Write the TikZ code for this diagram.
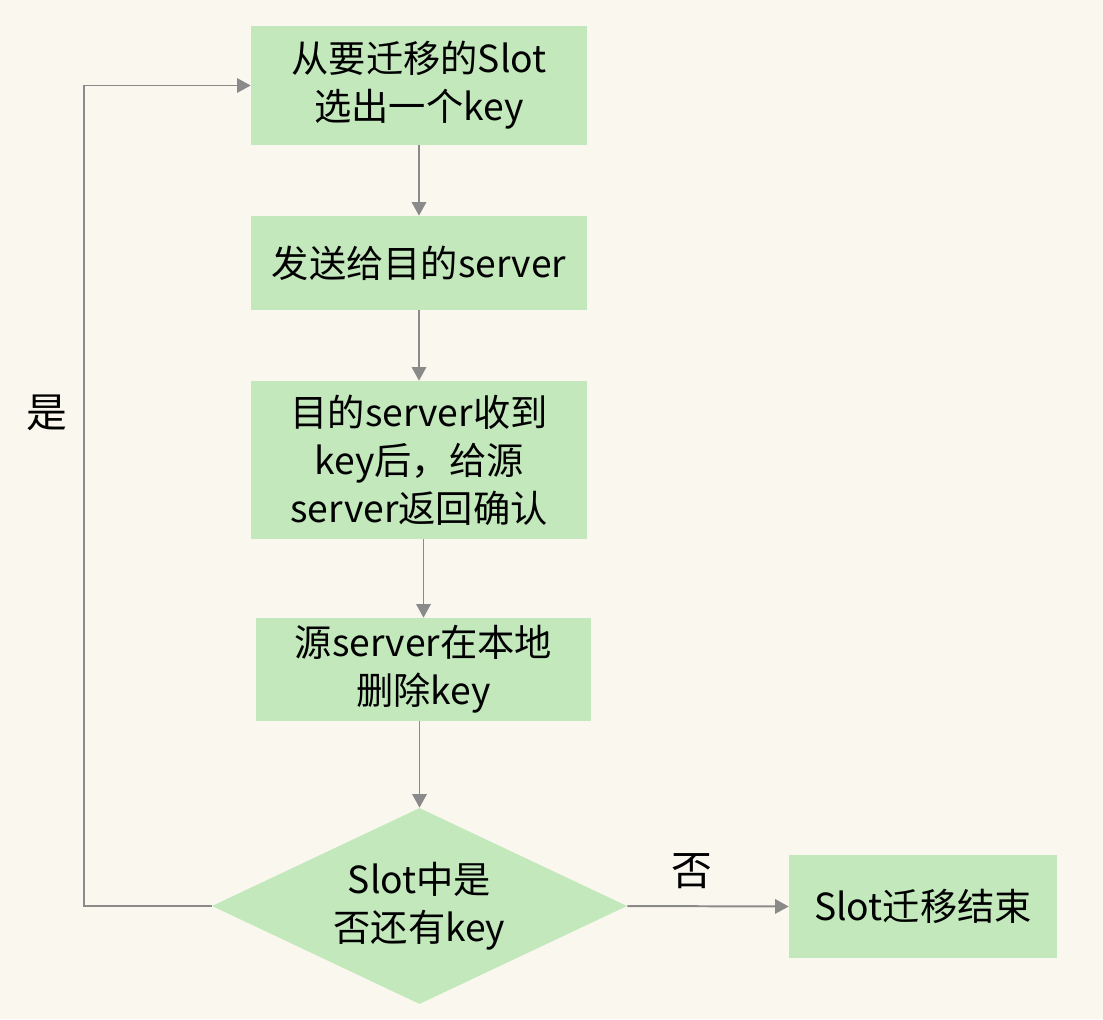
\documentclass[tikz,border=0pt]{standalone}
\usepackage{fontspec}
\setmainfont{Noto Sans CJK SC}
\usepackage{xcolor}
\usepackage{tikz}
\usetikzlibrary{arrows.meta}
\usetikzlibrary{shapes.geometric}
\definecolor{bgpaper}{HTML}{FAF8EE}
\definecolor{boxgreen}{HTML}{C2E8BC}
\definecolor{linegray}{HTML}{8A8A8A}
\tikzset{
  stepbox/.style={fill=boxgreen, inner sep=0, align=center, font=\fontsize{26.5}{34}\selectfont},
  decide/.style={diamond, shape aspect=2.12, fill=boxgreen, inner sep=0, align=center, font=\fontsize{26.5}{34}\selectfont},
  flow/.style={linegray, line width=1.4pt, -{Triangle[length=0.34cm,width=0.36cm]}},
  lbl/.style={text=black, font=\fontsize{29}{34}\selectfont}
}

\begin{document}
\begin{tikzpicture}[x=0.025cm, y=-0.025cm]
\fill[bgpaper] (0,0) rectangle (1103,1019);
\useasboundingbox (0,0) rectangle (1103,1019);
% boxes
\node[stepbox, minimum width=8.4cm, minimum height=2.975cm] (pick) at (419,85.5) {从要迁移的Slot\\选出一个key};
\node[stepbox, minimum width=8.4cm, minimum height=2.35cm] (send) at (419,263) {发送给目的server};
\node[stepbox, minimum width=8.4cm, minimum height=3.95cm] (ack) at (419,460) {目的server收到\\key后，给源\\server返回确认};
\node[stepbox, minimum width=8.375cm, minimum height=2.575cm] (del) at (423.5,669.5) {源server在本地\\删除key};
\node[decide, minimum width=10.375cm, minimum height=4.9cm] (more) at (419.5,906) {Slot中是\\否还有key};
\node[stepbox, minimum width=6.7cm, minimum height=2.575cm] (done) at (923,906.5) {Slot迁移结束};
\coordinate (loopbot) at (84,906);
\coordinate (looptop) at (84,85.5);
% arrows
\draw[flow] (pick) -- (send);
\draw[flow] (send) -- (ack);
\draw[flow] (ack.south -| del.north) -- (del);
\draw[flow] (del.south -| more.north) -- (more);
\draw[flow] (more.east) -- (done.west) node[lbl, pos=0.4, above=0.3cm] {否};
\draw[flow] (more.west) -- (loopbot) -- (looptop) -- (pick.west);
\node[lbl] (yes) at (47,413) {是};
\end{tikzpicture}
\end{document}
